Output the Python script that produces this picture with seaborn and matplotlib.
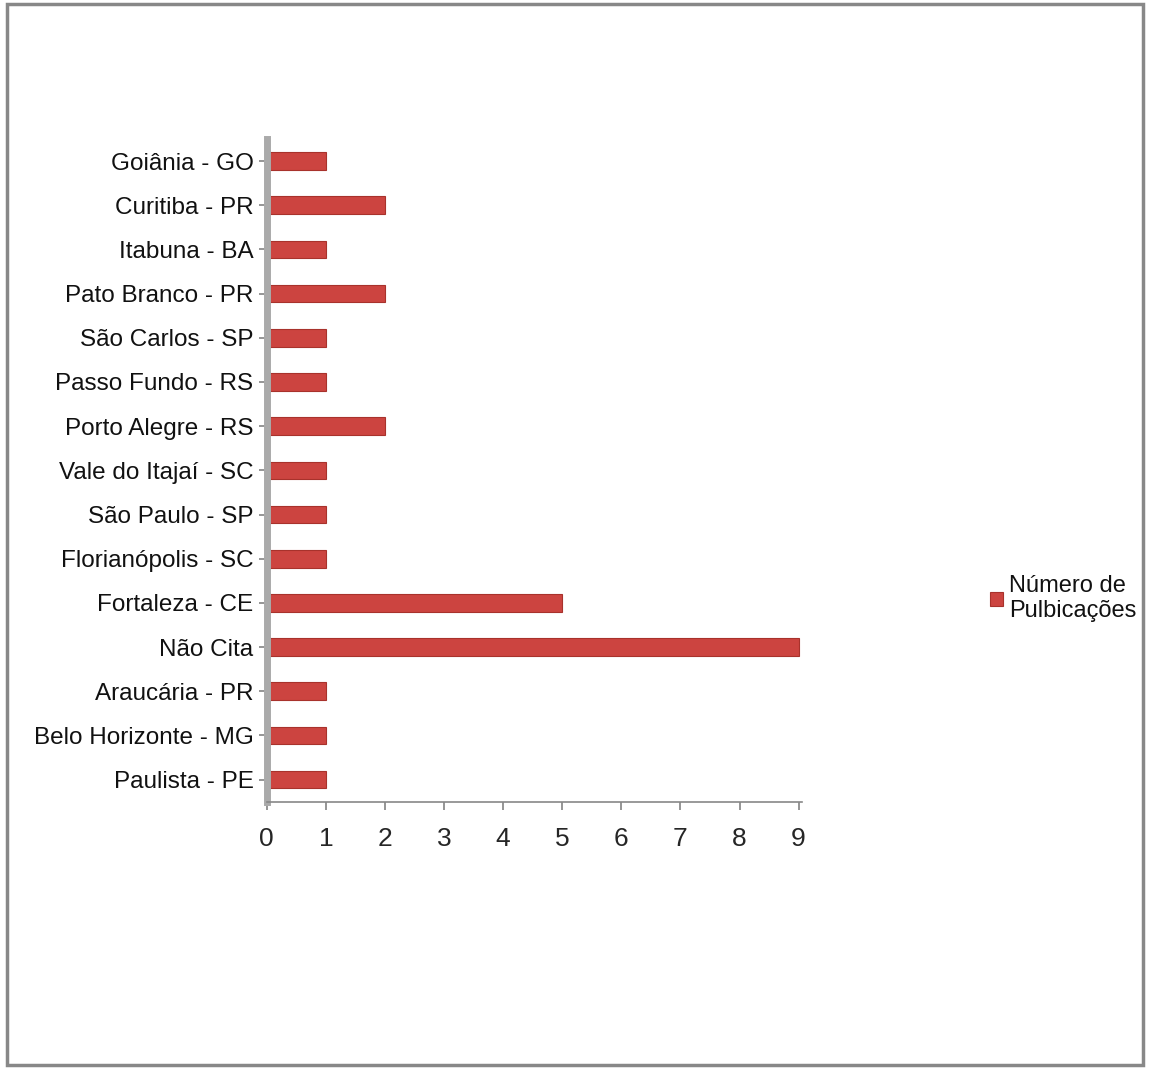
import matplotlib
matplotlib.use("Agg")
import matplotlib.pyplot as plt
import seaborn as sns
import pandas as pd
from matplotlib.patches import Rectangle

cidades = ["Goiânia - GO", "Curitiba - PR", "Itabuna - BA", "Pato Branco - PR",
           "São Carlos - SP", "Passo Fundo - RS", "Porto Alegre - RS",
           "Vale do Itajaí - SC", "São Paulo - SP", "Florianópolis - SC",
           "Fortaleza - CE", "Não Cita", "Araucária - PR",
           "Belo Horizonte - MG", "Paulista - PE"]
publicacoes = [1, 2, 1, 2, 1, 1, 2, 1, 1, 1, 5, 9, 1, 1, 1]
serie = "Número de\nPulbicações"
xticks = list(range(0, 10))

df = pd.DataFrame({"Cidade": cidades, "Publicações": publicacoes})

sns.set_theme(style="white")
plt.rcParams["font.family"] = ["Liberation Sans Narrow", "Liberation Sans", "DejaVu Sans"]

fig = plt.figure(figsize=(11.5, 10.69), dpi=100)
ax = fig.add_axes([0.232, 0.25, 0.465, 0.62])

sns.barplot(data=df, y="Cidade", x="Publicações", order=cidades,
            color="#CC4440", width=0.4, ax=ax, label=serie, saturation=1,
            edgecolor="#A8322C", linewidth=0.8)

ax.set_xlim(0, 9.05)
ax.set_xticks(xticks)
ax.set_xticklabels([str(t) for t in xticks], fontsize=19)
ax.tick_params(axis="y", labelsize=17.5, length=6, color="#888888", direction="out", left=True)
ax.tick_params(axis="x", length=6, color="#888888", bottom=True, pad=12)
ax.set_xlabel("")
ax.set_ylabel("")
for s in ["top", "right"]:
    ax.spines[s].set_visible(False)
ax.spines["left"].set_color("#AAAAAA")
ax.spines["left"].set_linewidth(5)
ax.spines["bottom"].set_color("#888888")
ax.spines["bottom"].set_linewidth(1.2)
for lab in ax.get_yticklabels():
    lab.set_color("#111111")

handles, labels = ax.get_legend_handles_labels()
if ax.get_legend() is not None:
    ax.get_legend().remove()
fig.legend(handles, labels, loc="center left", bbox_to_anchor=(0.853, 0.44),
           frameon=False, fontsize=17, handlelength=0.55, handleheight=0.55,
           handletextpad=0.25, borderaxespad=0, labelcolor="#111111")

fig.patches.append(Rectangle((0.006, 0.004), 0.988, 0.992, transform=fig.transFigure,
                             fill=False, edgecolor="#888888", linewidth=2.5))

fig.savefig("out.png", dpi=100, facecolor="white")
